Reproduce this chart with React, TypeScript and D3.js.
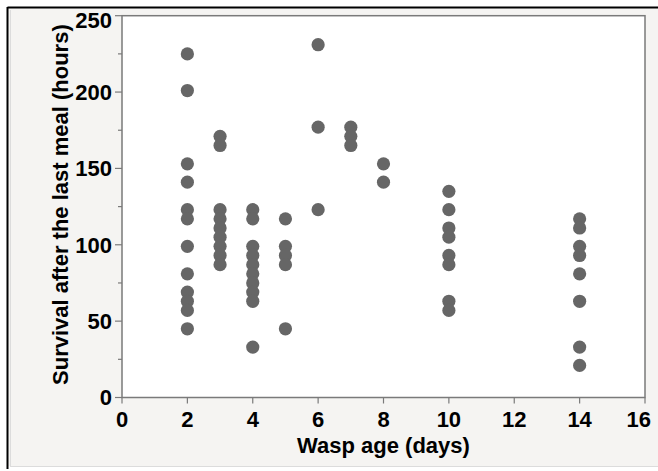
import React from "react";
import * as d3 from "d3";

const ages = [2, 3, 4, 5, 6, 7, 8, 10, 14];
const survival: number[][] = [
  [225, 201, 153, 141, 123, 117, 99, 81, 69, 63, 57, 45],
  [171, 165, 123, 117, 111, 105, 99, 93, 87],
  [123, 117, 99, 93, 87, 81, 75, 69, 63, 33],
  [117, 99, 93, 87, 45],
  [231, 177, 123],
  [177, 171, 165],
  [153, 141],
  [135, 123, 111, 105, 93, 87, 63, 57],
  [117, 111, 99, 93, 81, 63, 33, 21],
];
const xTicks = [0, 2, 4, 6, 8, 10, 12, 14, 16];
const yTicks = [0, 50, 100, 150, 200, 250];
const yMinor = [25, 75, 125, 175, 225];

export default function App() {
  const W = 658, H = 471;
  const left = 122, right = 645, top = 15.7, bottom = 397.5;
  const x = d3.scaleLinear().domain([0, 16]).range([left, right]);
  const y = d3.scaleLinear().domain([0, 250]).range([bottom, top]);
  const points = ages.flatMap((a, i) => survival[i].map((v) => ({ a, v })));
  const font = "'Liberation Sans', Arial, Helvetica, sans-serif";
  const axisColor = "#7a7a7a";
  const fs = 22;
  return (
    <svg width={W} height={H} style={{ position: "absolute", left: 0, top: 0 }} fontFamily={font}>
      <rect x={0} y={0} width={W} height={H} fill="#ffffff" />
      <rect x={8} y={8} width={W - 8} height={458} fill="#f5f4f2" />
      <line x1={7.5} y1={7.5} x2={W} y2={7.5} stroke="#000" strokeWidth={2} />
      <line x1={7.5} y1={7} x2={7.5} y2={469} stroke="#000" strokeWidth={2} />
      <line x1={10.5} y1={10} x2={10.5} y2={466} stroke="#dcdcdc" strokeWidth={1} />
      <line x1={10} y1={466.5} x2={W} y2={466.5} stroke="#dcdcdc" strokeWidth={1} />
      <rect x={left} y={top} width={right - left} height={bottom - top} fill="#ffffff" stroke={axisColor} strokeWidth={1.5} />
      {points.map((p, i) => (
        <circle key={i} cx={x(p.a)} cy={y(p.v)} r={6.6} fill="#666666" />
      ))}
      {xTicks.map((t) => (
        <g key={"x" + t}>
          <line x1={x(t)} x2={x(t)} y1={bottom} y2={bottom + 6} stroke={axisColor} strokeWidth={1.2} />
          <text
            x={t === 16 ? 651 : x(t)}
            y={427}
            textAnchor={t === 16 ? "end" : "middle"}
            fontSize={fs}
            fontWeight="bold"
            fill="#000"
          >
            {t}
          </text>
        </g>
      ))}
      {yTicks.map((t) => (
        <g key={"y" + t}>
          <line x1={left - 7} x2={left} y1={y(t)} y2={y(t)} stroke={axisColor} strokeWidth={1.2} />
          <text x={112} y={t === 250 ? 28.3 : y(t) + 7.8} textAnchor="end" fontSize={fs} fontWeight="bold" fill="#000">
            {t}
          </text>
        </g>
      ))}
      {yMinor.map((t) => (
        <line key={"m" + t} x1={left - 4} x2={left} y1={y(t)} y2={y(t)} stroke={axisColor} strokeWidth={1.2} />
      ))}
      <text x={(left + right) / 2} y={453} textAnchor="middle" fontSize={fs} fontWeight="bold" fill="#000">
        Wasp age (days)
      </text>
      <text
        transform={`translate(68, ${(top + bottom) / 2 - 2}) rotate(-90)`}
        textAnchor="middle"
        fontSize={fs}
        fontWeight="bold"
        fill="#000"
      >
        Survival after the last meal (hours)
      </text>
    </svg>
  );
}
